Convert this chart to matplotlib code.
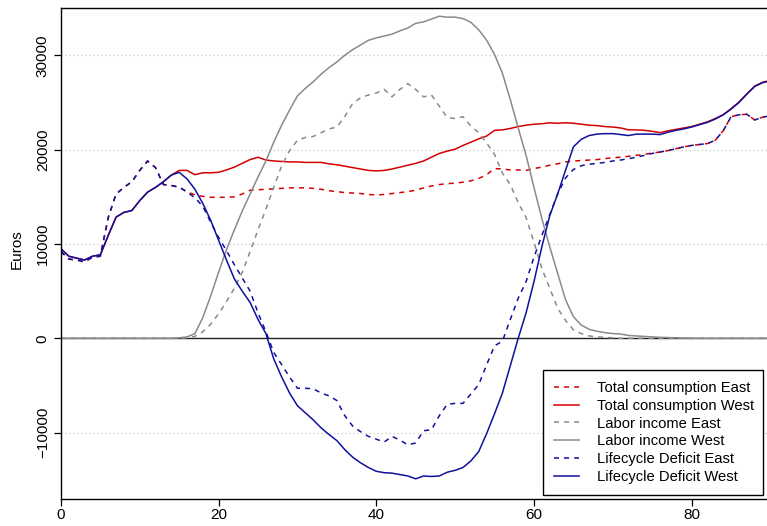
import numpy as np
import matplotlib
matplotlib.use('Agg')
import matplotlib.pyplot as plt

plt.rcParams['font.family'] = ['Liberation Sans', 'DejaVu Sans']

# ages 0..90
age = np.arange(0, 91)

# Total consumption, East
cons_east = [9200, 8400, 8300, 8100, 8600, 8700, 12800, 15300, 16000, 16600,
             17800, 18800, 18100, 16300, 16200, 16000, 15550, 15200, 15050, 14950,
             14950, 14950, 15000, 15300, 15700, 15750, 15800, 15850, 15900, 15950,
             15950, 15950, 15900, 15800, 15650, 15550, 15450, 15400, 15350, 15250,
             15200, 15250, 15350, 15450, 15550, 15700, 15950, 16150, 16300, 16400,
             16450, 16550, 16700, 16950, 17350, 18000, 17950, 17850, 17850, 17800,
             18000, 18150, 18350, 18500, 18700, 18800, 18850, 18900, 18950, 19050,
             19150, 19200, 19300, 19400, 19500, 19650, 19750, 19900, 20100, 20300,
             20450, 20550, 20650, 21000, 22000, 23500, 23700, 23750, 23150, 23450,
             23600]

# Total consumption, West
cons_west = [9500, 8700, 8500, 8300, 8700, 8850, 10900, 12850, 13350, 13550,
             14600, 15500, 16000, 16600, 17300, 17800, 17800, 17350, 17550, 17550,
             17600, 17850, 18150, 18550, 18950, 19200, 18900, 18800, 18750, 18700,
             18700, 18650, 18650, 18650, 18500, 18400, 18250, 18100, 17950, 17800,
             17750, 17800, 17950, 18150, 18350, 18550, 18800, 19200, 19600, 19850,
             20050, 20450, 20800, 21150, 21450, 22050, 22100, 22250, 22450, 22600,
             22700, 22750, 22850, 22800, 22850, 22800, 22700, 22600, 22550, 22450,
             22400, 22300, 22100, 22100, 22050, 21950, 21800, 22000, 22150, 22300,
             22450, 22700, 22950, 23300, 23700, 24350, 25050, 25900, 26750, 27150,
             27350]

# Labor income, East
labor_east = [0, 0, 0, 0, 0, 0, 0, 0, 0, 0,
              0, 0, 0, 0, 0, 0, 50, 200, 700, 1500,
              2600, 3900, 5300, 7000, 9200, 11500, 13700, 16000, 18300, 19900,
              21000, 21300, 21400, 21800, 22200, 22400, 23500, 24900, 25500, 25800,
              26000, 26400, 25600, 26400, 27000, 26400, 25600, 25800, 24600, 23400,
              23300, 23500, 22500, 21800, 20700, 19500, 17500, 16300, 14400, 12800,
              10200, 7400, 5300, 3200, 1900, 900, 500, 250, 150, 100,
              50, 0, 0, 0, 0, 0, 0, 0, 0, 0,
              0, 0, 0, 0, 0, 0, 0, 0, 0, 0,
              0]

# Labor income, West
labor_west = [0, 0, 0, 0, 0, 0, 0, 0, 0, 0,
              0, 0, 0, 0, 0, 50, 150, 500, 2200, 4500,
              7000, 9400, 11500, 13500, 15300, 17100, 18800, 20800, 22600, 24200,
              25700, 26500, 27200, 28000, 28700, 29300, 30000, 30600, 31100, 31600,
              31850, 32050, 32250, 32600, 32900, 33400, 33550, 33850, 34150, 34050,
              34050, 33900, 33500, 32700, 31600, 30100, 28100, 25300, 22300, 19400,
              16000, 12700, 9700, 6900, 4100, 2300, 1400, 950, 750, 600,
              500, 450, 300, 250, 200, 150, 100, 80, 50, 30,
              0, 0, 0, 0, 0, 0, 0, 0, 0, 0,
              0]

# Lifecycle deficit, East
deficit_east = [9200, 8400, 8300, 8100, 8600, 8700, 12800, 15300, 16000, 16600,
                17800, 18800, 18100, 16300, 16200, 16050, 15500, 14900, 14000, 12300,
                10700, 9300, 7800, 6400, 5000, 2700, 700, -1500, -2800, -4100,
                -5300, -5300, -5350, -5800, -6100, -6600, -8200, -9300, -9900, -10400,
                -10700, -11000, -10400, -10800, -11300, -11100, -9800, -9700, -8200, -7000,
                -6900, -6900, -5900, -4900, -2800, -800, -300, 2000, 4250, 6000,
                8600, 10900, 13100, 15300, 17000, 17900, 18300, 18450, 18550, 18650,
                18800, 18900, 19050, 19200, 19400, 19600, 19750, 19900, 20100, 20300,
                20450, 20550, 20650, 21000, 22000, 23500, 23700, 23750, 23150, 23450,
                23600]

# Lifecycle deficit, West
deficit_west = [9500, 8700, 8500, 8300, 8700, 8850, 10900, 12850, 13350, 13550,
                14600, 15500, 16000, 16600, 17300, 17600, 16900, 15800, 14300, 12500,
                10400, 8300, 6300, 5000, 3800, 2000, 500, -2200, -4100, -5800,
                -7150, -7900, -8650, -9500, -10200, -10850, -11800, -12600, -13200, -13700,
                -14100, -14250, -14300, -14450, -14600, -14900, -14600, -14650, -14600, -14200,
                -14000, -13700, -13000, -12000, -10100, -8000, -5800, -2900, 0, 2700,
                6000, 9700, 13000, 15300, 17800, 20300, 21100, 21500, 21650, 21700,
                21700, 21600, 21500, 21650, 21650, 21650, 21600, 21850, 22050, 22200,
                22400, 22650, 22900, 23250, 23700, 24300, 25000, 25900, 26700, 27100,
                27300]

red = '#d40000'
grey = '#8a8a8a'
blue = '#10109e'
lw = 1.1
dash = (3.3, 3.3)

fig = plt.figure(figsize=(7.67, 5.26), dpi=100)
# plot region runs past the right edge of the image, like the original
ax = fig.add_axes([60.9 / 767, 27 / 526, 709.6 / 767, 490.7 / 526])

for y in [-10000, 10000, 20000, 30000]:
    ax.axhline(y, color='#c8c8c8', lw=0.9, ls=(0, (1, 2.2)), zorder=1)
ax.axhline(0, color='#222222', lw=1.0, zorder=2)

ax.plot(age, cons_east, color=red, lw=lw, dashes=dash, label='Total consumption East')
ax.plot(age, cons_west, color=red, lw=lw, label='Total consumption West')
ax.plot(age, labor_east, color=grey, lw=lw, dashes=dash, label='Labor income East')
ax.plot(age, labor_west, color=grey, lw=lw, label='Labor income West')
ax.plot(age, deficit_east, color=blue, lw=lw, dashes=dash, label='Lifecycle Deficit East')
ax.plot(age, deficit_west, color=blue, lw=lw, label='Lifecycle Deficit West')

ax.set_xlim(0, 90)
ax.set_ylim(-17040, 34990)
ax.set_xticks([0, 20, 40, 60, 80])
ax.set_yticks([-10000, 0, 10000, 20000, 30000])
ax.tick_params(axis='both', direction='out', length=5, width=0.9, labelsize=11, color='black')
ax.tick_params(axis='x', pad=1.2)
ax.tick_params(axis='y', pad=3)
for lab in ax.get_yticklabels():
    lab.set_rotation(90)
    lab.set_va('center')
for sp in ax.spines.values():
    sp.set_linewidth(1.0)
    sp.set_color('black')

ax.set_ylabel('Euros', fontsize=11, va='center')
ax.yaxis.set_label_coords(-0.0623, 0.51)

leg = ax.legend(loc='lower left', mode='expand',
                bbox_to_anchor=(542.5 / 767, 1 - 495.3 / 526, 220.8 / 767, 126.1 / 526),
                bbox_transform=fig.transFigure, borderaxespad=0,
                fontsize=10.6, frameon=True, fancybox=False, framealpha=1,
                edgecolor='black', handlelength=1.7, handletextpad=1.25,
                labelspacing=0.26, borderpad=0.76)
leg.get_frame().set_linewidth(1.0)

fig.savefig('out.png', dpi=100)
